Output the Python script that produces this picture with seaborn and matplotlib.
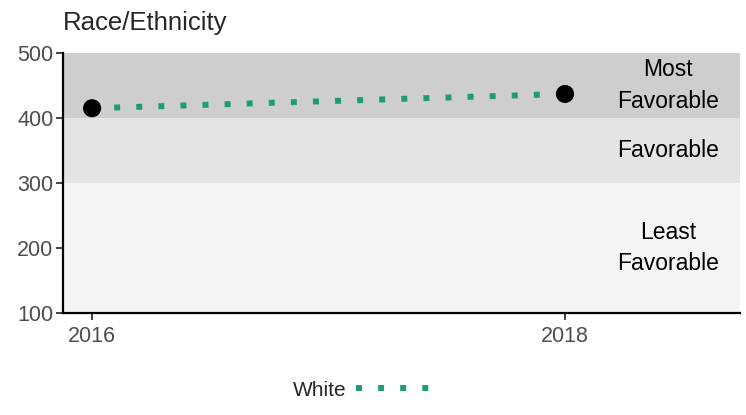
import matplotlib
matplotlib.use("Agg")
import matplotlib.pyplot as plt
import seaborn as sns
import pandas as pd
from matplotlib.lines import Line2D

years = [2016, 2018]
white = [415, 437]
group = ["White", "White"]
bands = [(100, 300, "#f4f4f4", "Least\nFavorable"),
         (300, 400, "#e4e4e4", "Favorable"),
         (400, 500, "#cecece", "Most\nFavorable")]
yticks = [100, 200, 300, 400, 500]
xticks = [2016, 2018]

sns.set_style("white")
plt.rcParams['font.family'] = ['Liberation Sans', 'DejaVu Sans']

df = pd.DataFrame({"year": years, "score": white, "group": group})

fig = plt.figure(figsize=(7.46, 4.15), dpi=100)
ax = fig.add_axes([63/746, 1-313/415, (740-63)/746, (313-53)/415])

xmin, xmax = 2015.877, 2018.74
for lo, hi, c, lab in bands:
    ax.axhspan(lo, hi, color=c, lw=0, zorder=0)
    ax.text(2018.435, (lo + hi) / 2, lab, ha="center", va="center",
            fontsize=16.5, color="black", linespacing=1.45)

sns.lineplot(data=df, x="year", y="score", hue="group", palette=["#1b9e77"],
             ax=ax, lw=4.3, zorder=2, legend=False)
ax.lines[-1].set_linestyle((0, (1, 2.7)))
ax.lines[-1].set_dash_capstyle("butt")
sns.scatterplot(data=df, x="year", y="score", color="black", s=170,
                ax=ax, zorder=3, edgecolor="none", legend=False)

h = Line2D([], [], color="#1b9e77", lw=4.3, linestyle=(0, (1, 2.7)),
           dash_capstyle="butt")
leg = fig.legend([h], ["White"], loc="center", bbox_to_anchor=(0.489, 1-390/415),
                 frameon=False, markerfirst=False, fontsize=15,
                 handlelength=3.9, handletextpad=0.45)

ax.set_xlim(xmin, xmax)
ax.set_ylim(100, 500)
ax.set_xticks(xticks)
ax.set_yticks(yticks)
ax.set_xlabel("")
ax.set_ylabel("")
for s in ["top", "right"]:
    ax.spines[s].set_visible(False)
for s in ["left", "bottom"]:
    ax.spines[s].set_color("black")
    ax.spines[s].set_linewidth(1.6)
ax.tick_params(axis="both", which="both", length=5, width=1.3, color="#333333",
               labelsize=15.5, labelcolor="#4d4d4d", direction="out",
               left=True, bottom=True)
ax.tick_params(axis="x", pad=4)
ax.tick_params(axis="y", pad=2)
fig.text(63/746, 1-23/415, "Race/Ethnicity", fontsize=18.5, ha="left", va="center")

fig.savefig("out.png", dpi=100)
